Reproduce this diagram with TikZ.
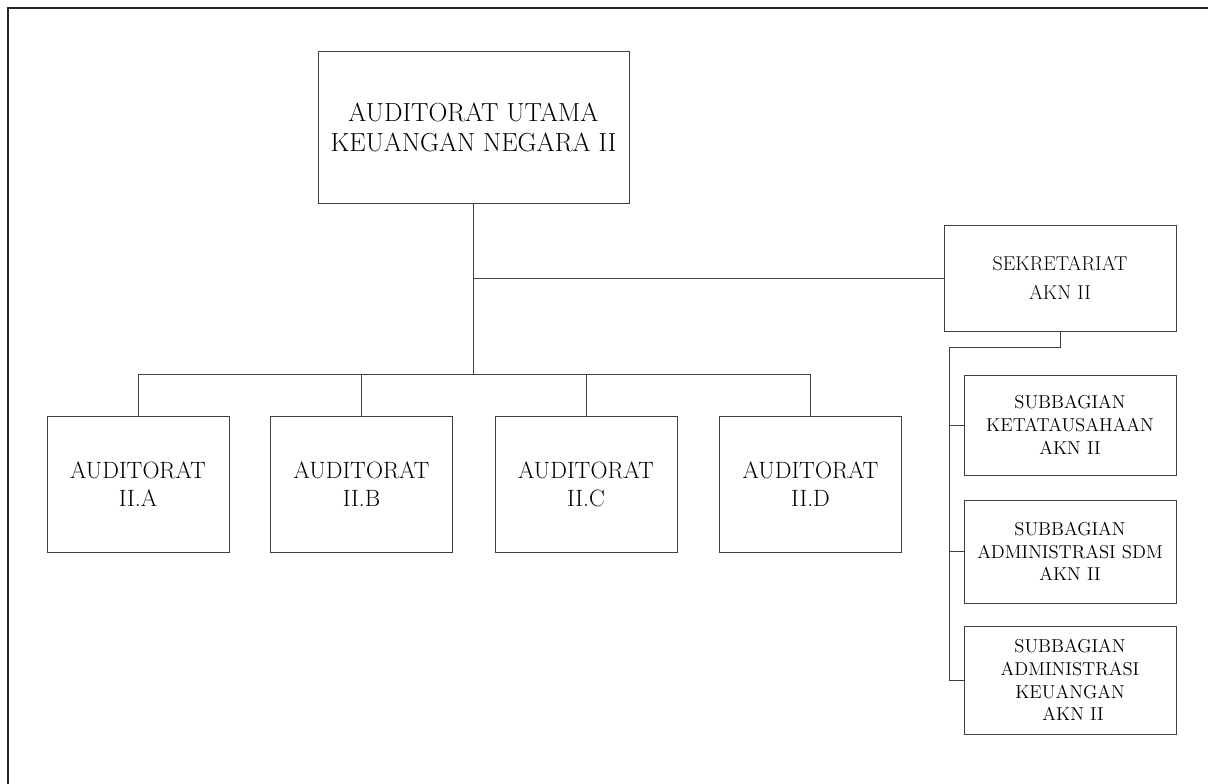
\documentclass[tikz,border=0pt]{standalone}
\begin{document}
\begin{tikzpicture}[x=0.75pt,y=-0.75pt,line width=0.7pt]

        \useasboundingbox (0,0) rectangle (1208,784);
        \draw[line width=1.5pt,black!85] (7.5,784) -- (7.5,8) -- (1208,8);

        % sizes in pt (1px = 0.75pt)
        \begin{scope}[every node/.style={rectangle,draw=black!75,align=center,inner sep=0pt}]
          \node[minimum width=233.25pt, minimum height=114pt, font=\fontsize{19.6}{22.5}\selectfont] (main) at (473.5,127) {AUDITORAT UTAMA\\KEUANGAN NEGARA II};
          \node[minimum width=174pt, minimum height=79.5pt, font=\fontsize{15}{21.5}\selectfont] (sek) at (1060,278) {SEKRETARIAT\\AKN II};
        \end{scope}

        \begin{scope}[every node/.style={rectangle,draw=black!75,align=center,inner sep=0pt,
            minimum width=136.5pt, minimum height=102pt, font=\fontsize{17.7}{21}\selectfont}]
          \node (audA) at (138,484)   {AUDITORAT\\II.A};
          \node (audB) at (361.5,484) {AUDITORAT\\II.B};
          \node (audC) at (586,484)   {AUDITORAT\\II.C};
          \node (audD) at (810.5,484) {AUDITORAT\\II.D};
        \end{scope}

        \begin{scope}[every node/.style={rectangle,draw=black!75,align=center,inner sep=0pt,
            minimum width=159pt, font=\fontsize{14}{17}\selectfont}]
          \node[minimum height=75pt]    (sub1) at (1070,425)   {SUBBAGIAN\\KETATAUSAHAAN\\AKN II};
          \node[minimum height=77.25pt] (sub2) at (1070,551.5) {SUBBAGIAN\\ADMINISTRASI SDM\\AKN II};
          \node[minimum height=81pt]    (sub3) at (1070,680)   {SUBBAGIAN\\ADMINISTRASI\\KEUANGAN\\\ AKN II};
        \end{scope}

        \coordinate (bus) at (473.5,374.5);
        \coordinate (subline) at (949,347.5);

        \begin{scope}[draw=black!75]
          \draw (main.south) -- (bus);
          \draw (bus |- sek.west) -- (sek.west);
          \draw (audA.north) |- (bus);
          \draw (audB.north) |- (bus);
          \draw (audC.north) |- (bus);
          \draw (audD.north) |- (bus);
          \draw (sek.south) |- (subline);
          \draw (subline) |- (sub1.west);
          \draw (subline) |- (sub2.west);
          \draw (subline) |- (sub3.west);
        \end{scope}

      \end{tikzpicture}
\end{document}
